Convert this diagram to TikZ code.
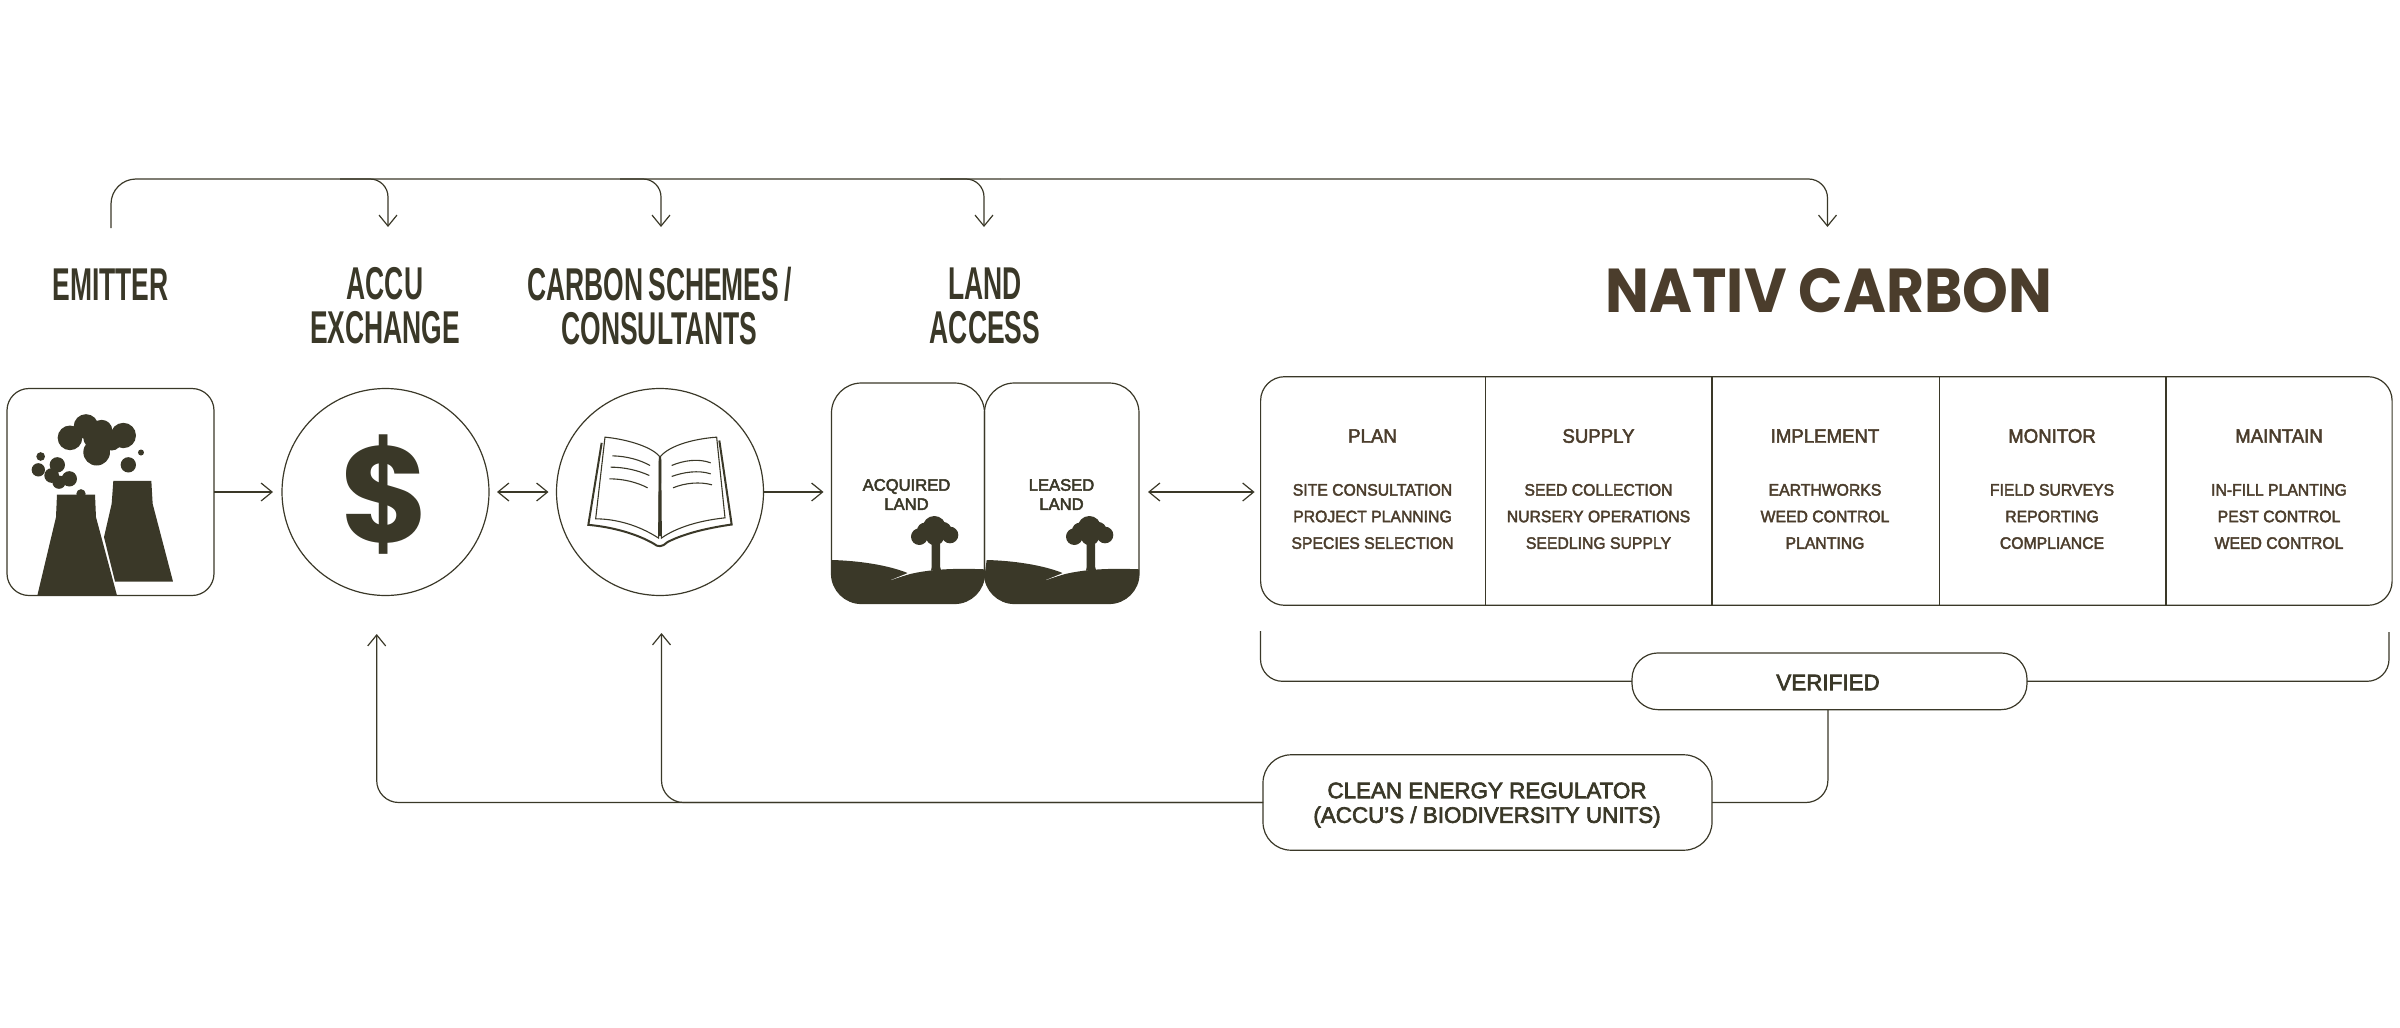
\documentclass[tikz,border=0pt]{standalone}
\usepackage{fontspec}
\usetikzlibrary{arrows.meta}
\setmainfont{Liberation Sans}
\newfontfamily\headfont[FakeStretch=0.575,WordSpace=0.7]{Liberation Sans}
\newfontfamily\titlefont[FakeStretch=0.94]{Poppins}
\newfontfamily\symbolfont{Poppins}
\newfontfamily\bodyfont[FakeBold=2.5,FakeStretch=0.95]{Liberation Sans}
\newfontfamily\boxfont[FakeBold=3,FakeStretch=1.0]{Liberation Sans}
\definecolor{ink}{HTML}{3A3828}
\definecolor{umber}{HTML}{4B3D2C}
\tikzset{
  x=0.5pt,y=-0.5pt,
  wire/.style={draw=ink,line width=0.6pt},
  arrowwire/.style={wire,-{Straight Barb[length=5.5pt,width=9pt,line width=0.6pt]}},
  bothwire/.style={wire,{Straight Barb[length=5.5pt,width=9pt,line width=0.6pt]}-{Straight Barb[length=5.5pt,width=9pt,line width=0.6pt]}},
  box/.style={draw=ink,line width=0.6pt,inner sep=0pt,outer sep=0pt},
  disc/.style={box,circle,minimum size=103.5pt},
  headtext/.style={text=ink,align=center,inner sep=0pt,font=\headfont\bfseries\fontsize{23}{22}\selectfont},
  stagetext/.style={text=umber,align=center,inner sep=0pt,font=\bodyfont\fontsize{9.8}{12}\selectfont},
  itemtext/.style={text=umber,align=center,inner sep=0pt,font=\bodyfont\fontsize{8.3}{13.3}\selectfont},
  landtext/.style={text=ink,align=center,inner sep=0pt,font=\boxfont\fontsize{8.3}{9.6}\selectfont},
  boxtext/.style={text=ink,align=center,inner sep=0pt,font=\boxfont\fontsize{11.2}{12.3}\selectfont},
}
\newcommand\landscene[1]{%
  \begin{scope}[shift={(#1,510)},scale=0.33333,fill=ink]
    \fill (20,150) .. controls (100,152) and (190,165) .. (250,190) -- (200,210) -- (200,300) -- (0,300) -- cycle;
    \fill (200,210) .. controls (260,185) and (340,172) .. (480,178) -- (480,300) -- (100,300) -- (100,215) -- cycle;
    \fill[white] (198,210) -- (254,187) -- (254,191) -- cycle;
    \fill (320,100) -- (345,100) -- (345,160) .. controls (345,170) and (346,175) .. (348,180) -- (318,182) .. controls (320,175) and (320,170) .. (320,160) -- cycle;
    \fill (328,53) circle (35);
    \fill (283,80) circle (25);
    \fill (375,75) circle (25);
    \fill (300,62) circle (24);
    \fill (355,60) circle (24);
    \fill (330,78) circle (28);
  \end{scope}}
\begin{document}
\begin{tikzpicture}
\useasboundingbox (0,0) rectangle (2400,1028);
% coordinates
\coordinate (emitterTop) at (111,228);
\coordinate (railLeft) at (111,179);
\coordinate (railEnd) at (1000,179);
\coordinate (railA) at (340,179);
\coordinate (railB) at (620,179);
\coordinate (railC) at (940,179);
\coordinate (railD) at (1700,179);
\coordinate (accuIn) at (388,227);
\coordinate (carbonIn) at (661,227);
\coordinate (landIn) at (984,227);
\coordinate (nativIn) at (1827.5,227);
\coordinate (accuUp) at (376.7,634);
\coordinate (carbonUp) at (661.5,633);
\coordinate (panelBL) at (1260.5,631);
\coordinate (panelBR) at (2389,632);
% main boxes
\node[box,rounded corners=11pt,minimum width=103.5pt,minimum height=103.5pt] (emitter) at (110.5,492) {};
\node[disc] (accu) at (385.5,492) {};
\node[disc] (carbon) at (660,492) {};
% land
\begin{scope}
  \clip[rounded corners=15pt] (831.5,383) rectangle (984.5,603.5);
  \landscene{825}
\end{scope}
\begin{scope}
  \clip[rounded corners=15pt] (984.5,383) rectangle (1139,603.5);
  \landscene{980}
\end{scope}
\node[box,rounded corners=15pt,minimum width=76.5pt,minimum height=110.25pt] (acquired) at (908,493.25) {};
\node[box,rounded corners=15pt,minimum width=77.25pt,minimum height=110.25pt] (leased) at (1061.75,493.25) {};
\node[landtext] (acquiredtxt) at (906.5,494.5) {ACQUIRED\\LAND};
\node[landtext] (leasedtxt) at (1061.5,494.5) {LEASED\\LAND};
% panel
\node[box,rounded corners=12pt,minimum width=565.75pt,minimum height=114.3pt] (panel) at (1826.35,491) {};
\draw[wire] (1485.3,376.7) -- (1485.3,605.3);
\draw[wire] (1712,376.7) -- (1712,605.3);
\draw[wire] (1939.3,376.7) -- (1939.3,605.3);
\draw[wire] (2166,376.7) -- (2166,605.3);
\foreach \nm/\cx/\hd/\a/\b/\c in {
  plan/1372.5/PLAN/SITE CONSULTATION/PROJECT PLANNING/SPECIES SELECTION,
  supply/1598.5/SUPPLY/SEED COLLECTION/NURSERY OPERATIONS/SEEDLING SUPPLY,
  implement/1825/IMPLEMENT/EARTHWORKS/WEED CONTROL/PLANTING,
  monitor/2052/MONITOR/FIELD SURVEYS/REPORTING/COMPLIANCE,
  maintain/2279/MAINTAIN/IN-FILL PLANTING/PEST CONTROL/WEED CONTROL}{
  \node[stagetext] (\nm) at (\cx,436) {\hd};
  \node[itemtext] (\nm items) at (\cx,516.5) {\a\\\b\\\c};
}
% lower boxes
\node[box,rounded corners=13pt,minimum width=197.5pt,minimum height=28.35pt] (verified) at (1829.5,681.3) {};
\node[boxtext] (verifiedtxt) at (1828,682.5) {VERIFIED};
\node[box,rounded corners=14pt,minimum width=224.5pt,minimum height=47.7pt] (regulator) at (1487.5,802.5) {};
\node[boxtext] (regulatortxt) at (1487,805) {CLEAN ENERGY REGULATOR\\(ACCU’S / BIODIVERSITY UNITS)};
% headings
\node[headtext] (emitterlabel) at (110.5,285) {EMITTER};
\node[headtext] (acculabel) at (385,306) {ACCU\\EXCHANGE};
\node[headtext] (carbonlabel) at (659.5,306) {CARBON SCHEMES /\\CONSULTANTS};
\node[headtext] (landlabel) at (985,306) {LAND\\ACCESS};
\node[text=umber,inner sep=0pt,font=\titlefont\bfseries\fontsize{31}{36}\selectfont] (nativlabel) at (1829,291) {NATIV CARBON};
% connectors
\draw[wire,rounded corners=12.5pt] (emitterTop) -- (railLeft) -- (railEnd);
\draw[arrowwire,rounded corners=9pt] (railA) -| (accuIn);
\draw[arrowwire,rounded corners=9pt] (railB) -| (carbonIn);
\draw[arrowwire,rounded corners=9pt] (railC) -| (landIn);
\draw[arrowwire,rounded corners=9.5pt] (railEnd) -- (railD) -| (nativIn);
\draw[arrowwire,shorten >=4.5pt] (emitter.east) -- (accu.west);
\draw[bothwire,shorten <=4pt,shorten >=4pt] (accu.east) -- (carbon.west);
\draw[arrowwire,shorten >=4pt] (carbon.east) -- (carbon.east -| acquired.west);
\draw[bothwire,shorten <=4.5pt,shorten >=3pt] (carbon.east -| leased.east) -- (carbon.east -| panel.west);
\draw[arrowwire,rounded corners=11pt] (regulator.west) -| (accuUp);
\draw[arrowwire,rounded corners=11pt] (regulator.west) -| (carbonUp);
\draw[wire,rounded corners=11pt] (verified.west) -| (panelBL);
\draw[wire,rounded corners=11pt] (verified.east) -| (panelBR);
\draw[wire,rounded corners=11pt] ([xshift=-0.8pt]verified.south) |- (regulator.east);
% emitter icon
\begin{scope}[shift={(0,370.5)},scale=0.33333,fill=ink]
  \clip (0,0) rectangle (640,675);
  \fill (171,372) -- (285,372) -- (288,440) -- (351,675) -- (112,675) -- (168,440) -- cycle;
  \fill (243,370) circle (14);
  \fill (340,331) -- (454,331) -- (458,400) -- (519,633) -- (345,633) -- (312,500) -- (335,400) -- cycle;
  \foreach \px/\py/\pr in {210/202/37,258/168/37,305/180/32,370/195/38,290/245/40,335/210/30,290/200/40,
    115/298/20,172/283/23,155/315/22,208/325/23,177/335/20,122/258/13,385/283/23,423/246/9}
    \fill (\px,\py) circle (\pr);
\end{scope}
% dollar
\node[text=ink,inner sep=0pt,font=\symbolfont\bfseries\fontsize{68}{68}\selectfont] (dollar) at (385,494.5) {\$};
% book
\begin{scope}[shift={(580,425.5)},scale=0.33333,draw=ink,line width=0.55pt]
  \draw (75,35) .. controls (130,40) and (210,60) .. (238,92) -- (236,338) .. controls (170,295) and (100,280) .. (47,280) -- cycle;
  \draw (242,92) .. controls (270,60) and (340,40) .. (410,35) -- (435,277) .. controls (360,285) and (290,305) .. (244,338) -- cycle;
  \draw[line width=1pt] (65,52) -- (25,298) .. controls (100,305) and (170,325) .. (222,355) .. controls (232,365) and (248,365) .. (262,350) .. controls (320,320) and (400,305) .. (455,297) -- (418,45);
  \draw[line width=1.1pt] (240,100) -- (239,332);
  \draw (97,91) .. controls (140,92) and (180,103) .. (210,120);
  \draw (92,125) .. controls (135,125) and (175,135) .. (208,150);
  \draw (88,160) .. controls (130,160) and (170,170) .. (203,187);
  \draw (275,120) .. controls (310,105) and (355,98) .. (392,112);
  \draw (275,153) .. controls (310,140) and (355,133) .. (392,145);
  \draw (279,187) .. controls (315,172) and (360,168) .. (396,178);
\end{scope}
\end{tikzpicture}
\end{document}
